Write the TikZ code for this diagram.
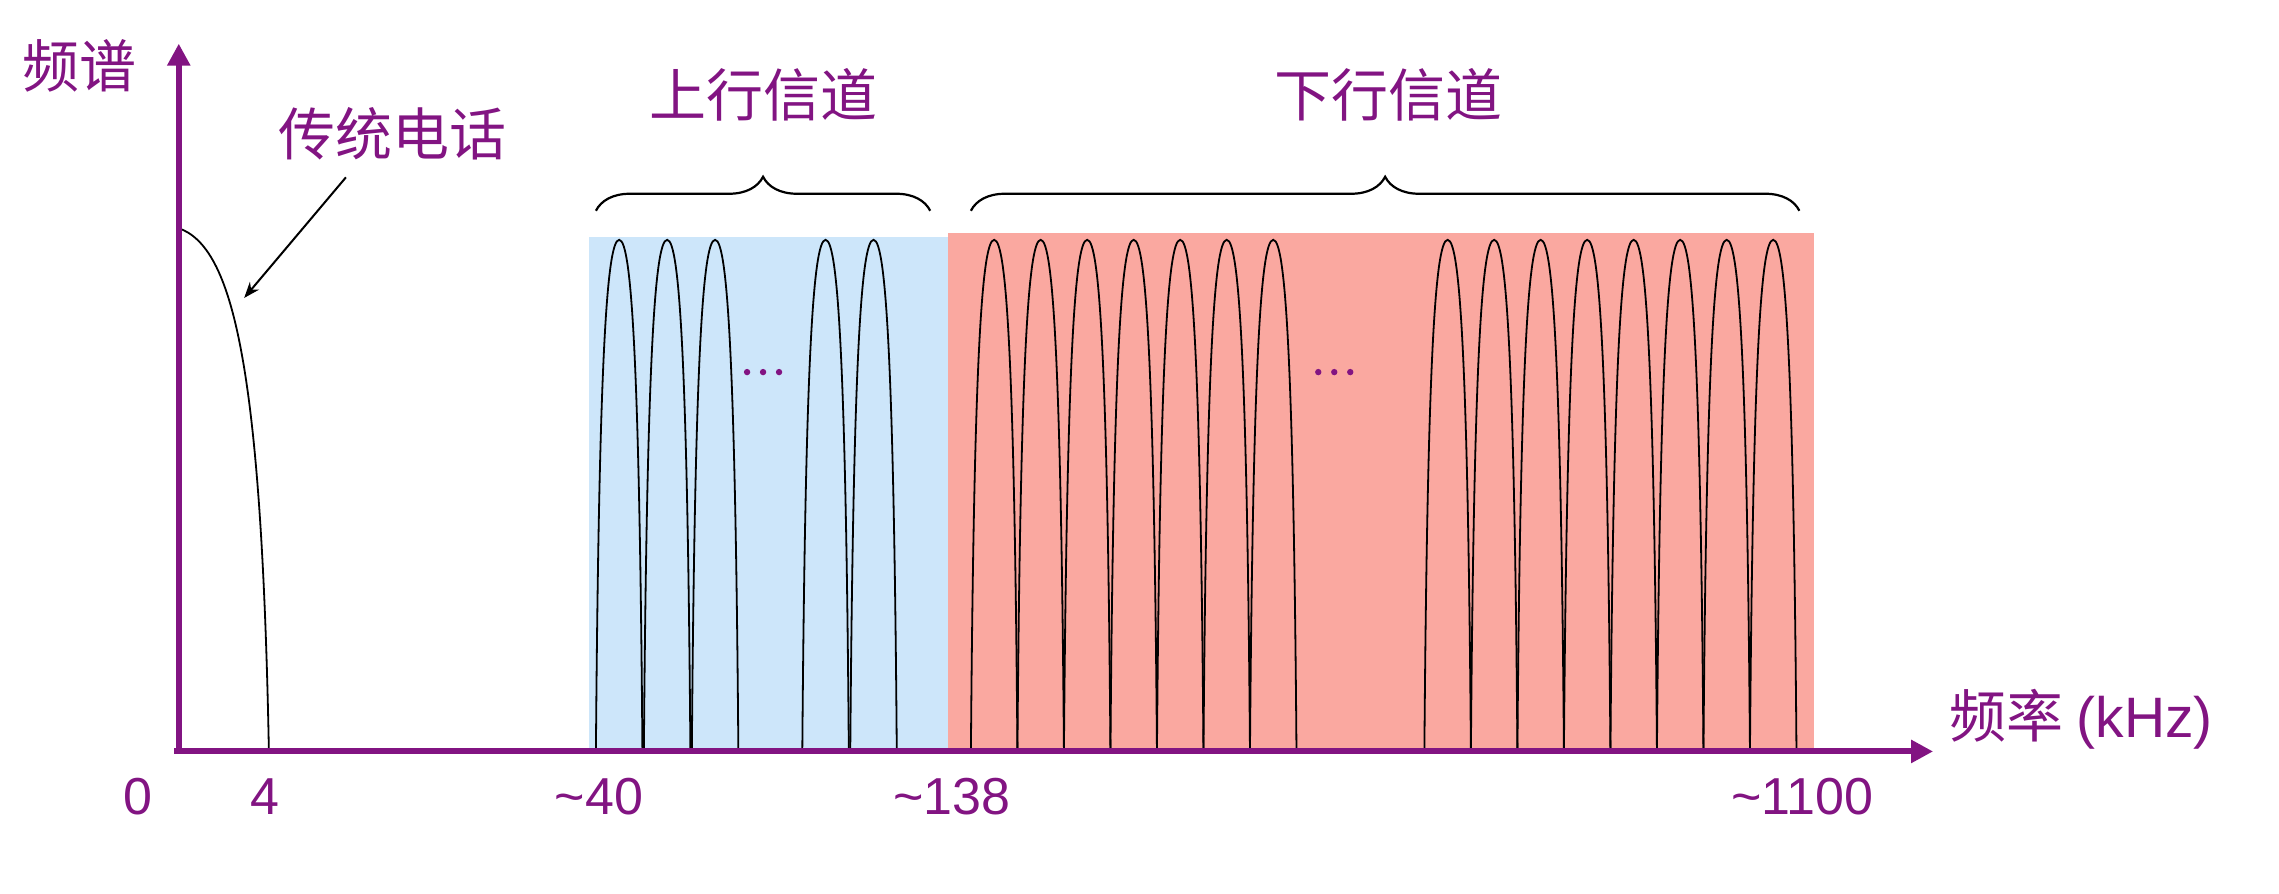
\documentclass[tikz,border=0pt]{standalone}
\usepackage{fontspec}
\setmainfont{Noto Sans CJK SC}
\newfontfamily\latinf{Liberation Sans}
\usetikzlibrary{decorations.pathreplacing,arrows.meta}
\definecolor{ax}{RGB}{130,20,130}
\definecolor{upc}{RGB}{205,230,250}
\definecolor{dnc}{RGB}{250,168,160}
\tikzset{lbl/.style={text=ax,font=\fontsize{57}{62}\selectfont,inner sep=0pt},
 num/.style={text=ax,font=\latinf\fontsize{52}{60}\selectfont,inner sep=0pt},
 hump/.style={black,line width=1.8pt},
 brc/.style={black,line width=2.2pt,decorate,decoration={brace,amplitude=34pt}}}
\newcommand{\hmp}[2]{%
 \pgfmathsetmacro{\mm}{(#1+#2)/2}%
 \draw[hump] (#1,517) .. controls (#1+2,260) and (\mm-9,165) .. (\mm,165) .. controls (\mm+9,165) and (#2-2,260) .. (#2,517);}
\newcommand{\dotsrow}[1]{\foreach \d in {-11,0,11} \fill[ax] (#1+\d,256) circle (2.2);}
\begin{document}
\begin{tikzpicture}[x=1.4535pt,y=-1.4535pt]
\useasboundingbox (0,0) rectangle (1568,615);
\fill[upc] (405,163) rectangle (652,517);
\fill[dnc] (652,160) rectangle (1248,517);
\foreach \a in {410,443,476,552,585} {\pgfmathsetmacro{\b}{\a+32}\hmp{\a}{\b}}
\foreach \a in {668,700,732,764,796,828,860} {\pgfmathsetmacro{\b}{\a+32}\hmp{\a}{\b}}
\foreach \a in {980,1012,1044,1076,1108,1140,1172,1204} {\pgfmathsetmacro{\b}{\a+32}\hmp{\a}{\b}}
\draw[hump] (123,157) .. controls (160,170) and (180,250) .. (185,517);
\draw[ax,line width=6pt,-{Triangle[length=22pt,width=22pt]}] (123,517) -- (123,30);
\draw[ax,line width=6pt,-{Triangle[length=22pt,width=22pt]}] (120,517) -- (1330,517);
\node[lbl] (ylab) at (55,45) {频谱};
\node[lbl] (tel) at (270,92) {传统电话};
\coordinate (telp) at (168,205);
\draw[line width=2pt,-{Stealth[length=16pt]}] (238,122) -- (telp);
\node[lbl] (up) at (525,65) {上行信道};
\node[lbl] (dn) at (955,65) {下行信道};
\draw[brc] (410,145) -- (640,145);
\draw[brc] (668,145) -- (1238,145);
\node[lbl] (xlab) at (1432,495) {频率 {\latinf(kHz)}};
\node[num] at (95,548) {0};
\node[num] at (182,548) {4};
\node[num] at (412,548) {\textasciitilde40};
\node[num] at (655,548) {\textasciitilde138};
\node[num] at (1240,548) {\textasciitilde1100};
\dotsrow{525}
\dotsrow{918}
\end{tikzpicture}
\end{document}
